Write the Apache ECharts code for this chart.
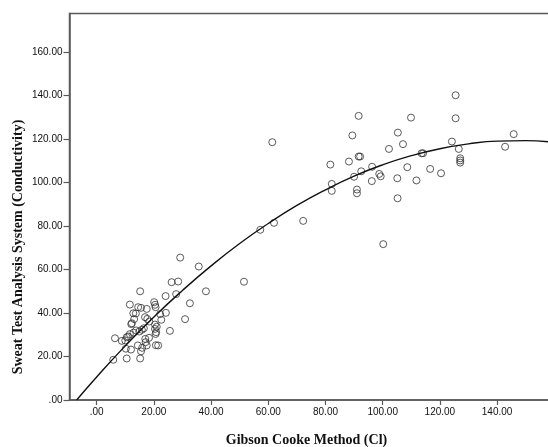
<!DOCTYPE html>
<html>
<head>
<meta charset="utf-8">
<script src="https://cdn.jsdelivr.net/npm/echarts@6/dist/echarts.min.js"></script>
<style>
  html, body { margin: 0; padding: 0; background: #fff; }
  #chart { width: 548px; height: 447px; }
</style>
</head>
<body>
<div id="chart"></div>
<script>
// Gibson Cooke chloride (x) vs. sweat conductivity (y), one point per subject
const gibsonCooke = [
  125.5, 91.6, 109.9, 125.5, 89.4, 105.3, 145.8, 107.1, 124.2, 102.2, 126.6, 142.8,
  91.6, 92.1, 113.6, 114.1, 127.1, 127.1, 127.1, 81.7, 88.2, 92.5, 96.3, 98.8, 99.3,
  108.6, 116.6, 120.4, 90.0, 105.1, 96.2, 111.8, 82.2, 82.2, 91.0, 91.0, 105.2,
  72.2, 100.2, 61.4, 57.2, 62.0,
  35.7, 38.2, 51.5, 32.6, 29.2, 26.2, 28.5, 15.2, 27.8, 24.1, 11.6,
  20.1, 20.4, 20.6, 14.5, 15.5, 17.5, 24.2, 12.8, 13.7, 22.2, 16.9, 17.7, 13.1,
  30.9, 22.6, 18.4, 12.3, 12.1, 20.4, 21.0, 16.5, 15.8, 14.9, 13.8, 12.9, 25.6,
  20.4, 20.8, 11.6, 11.0, 10.5, 18.3, 6.4, 8.8, 10.0, 20.6, 17.0, 17.1, 14.4,
  17.5, 20.7, 21.5, 10.2, 12.0, 15.9, 15.5, 5.8, 10.5, 15.2
];
const sweatTest = [
  140.2, 130.7, 129.9, 129.6, 121.7, 123.0, 122.3, 117.7, 118.9, 115.5, 115.5, 116.5,
  112.0, 112.0, 113.5, 113.5, 111.2, 110.2, 109.2, 108.3, 109.7, 105.2, 107.3, 104.0, 102.9,
  107.1, 106.3, 104.3, 102.7, 102.0, 100.7, 101.0, 99.4, 96.2, 96.8, 95.1, 92.8,
  82.4, 71.7, 118.6, 78.3, 81.5,
  61.4, 50.0, 54.4, 44.5, 65.5, 54.2, 54.5, 50.0, 48.7, 47.8, 43.9,
  45.0, 43.8, 42.7, 42.7, 42.4, 41.9, 40.1, 39.9, 39.8, 39.5, 38.1, 37.3, 37.2,
  37.2, 36.9, 36.1, 35.3, 34.9, 34.7, 33.7, 33.0, 32.3, 31.5, 32.0, 31.0, 31.8,
  32.7, 31.2, 30.3, 29.2, 28.9, 28.6, 28.4, 27.2, 27.4, 30.4, 28.1, 26.6, 25.1,
  25.1, 25.2, 25.1, 23.6, 23.2, 24.0, 22.4, 18.5, 19.1, 19.1
];

// Quadratic fit line, sampled along x
const fitX = [-7, 0, 10, 20, 30, 40, 50, 60, 70, 80, 90, 100, 110, 120, 130, 140, 150, 160];
const fitY = [0, 10.6, 24.9, 38.2, 50.4, 61.7, 72.0, 81.2, 89.5, 96.7, 103.0, 108.2, 112.4, 115.6, 117.8, 119.1, 119.3, 118.5];

// Tick positions for both axes
const xTicks = [0, 20, 40, 60, 80, 100, 120, 140];
const yTicks = [0, 20, 40, 60, 80, 100, 120, 140, 160];

const fmt = v => (v === 0 ? '.00' : v.toFixed(2));

const chart = echarts.init(document.getElementById('chart'), null, { renderer: 'canvas' });

const axisColor = '#5a5a5a';
const labelStyle = { color: '#111', fontFamily: 'Liberation Sans, Arial, sans-serif', fontSize: 10 };

chart.setOption({
  animation: false,
  backgroundColor: '#fff',
  grid: {
    left: 69.5, top: 13.5, right: -6.3, bottom: 47,
    outerBoundsMode: 'none', containLabel: false,
    show: true, borderColor: axisColor, borderWidth: 1.5, backgroundColor: 'transparent'
  },
  xAxis: {
    type: 'value', min: -9.5, max: 160,
    axisLine: { show: true, onZero: false, lineStyle: { color: axisColor, width: 1.5 } },
    axisTick: { show: true, length: 5, customValues: xTicks, lineStyle: { color: axisColor, width: 1.2 } },
    axisLabel: { customValues: xTicks, formatter: fmt, margin: 7, ...labelStyle },
    splitLine: { show: false }
  },
  yAxis: {
    type: 'value', min: 0, max: 177.8,
    axisLine: { show: true, onZero: false, lineStyle: { color: axisColor, width: 1.5 } },
    axisTick: { show: true, length: 6, customValues: yTicks, lineStyle: { color: axisColor, width: 1.2 } },
    axisLabel: { customValues: yTicks, formatter: fmt, margin: 7, ...labelStyle },
    splitLine: { show: false }
  },
  graphic: [
    {
      type: 'text', x: 306.5, y: 440,
      style: {
        text: 'Gibson Cooke Method (Cl)', fill: '#111',
        font: 'bold 14px "Liberation Serif", "Times New Roman", serif',
        align: 'center', verticalAlign: 'middle'
      }
    },
    {
      type: 'text', x: 18, y: 247, rotation: Math.PI / 2,
      style: {
        text: 'Sweat Test Analysis System (Conductivity)', fill: '#111',
        font: 'bold 14px "Liberation Serif", "Times New Roman", serif',
        align: 'center', verticalAlign: 'middle'
      }
    }
  ],
  series: [
    {
      type: 'scatter',
      data: gibsonCooke.map((x, i) => [x, sweatTest[i]]),
      symbol: 'circle', symbolSize: 7,
      itemStyle: { color: 'rgba(255,255,255,0)', borderColor: '#333', borderWidth: 1 },
      z: 3
    },
    {
      type: 'line',
      data: fitX.map((x, i) => [x, fitY[i]]),
      smooth: true, symbol: 'none',
      lineStyle: { color: '#111', width: 1.4 },
      clip: true,
      z: 4
    }
  ]
});
</script>
</body>
</html>
